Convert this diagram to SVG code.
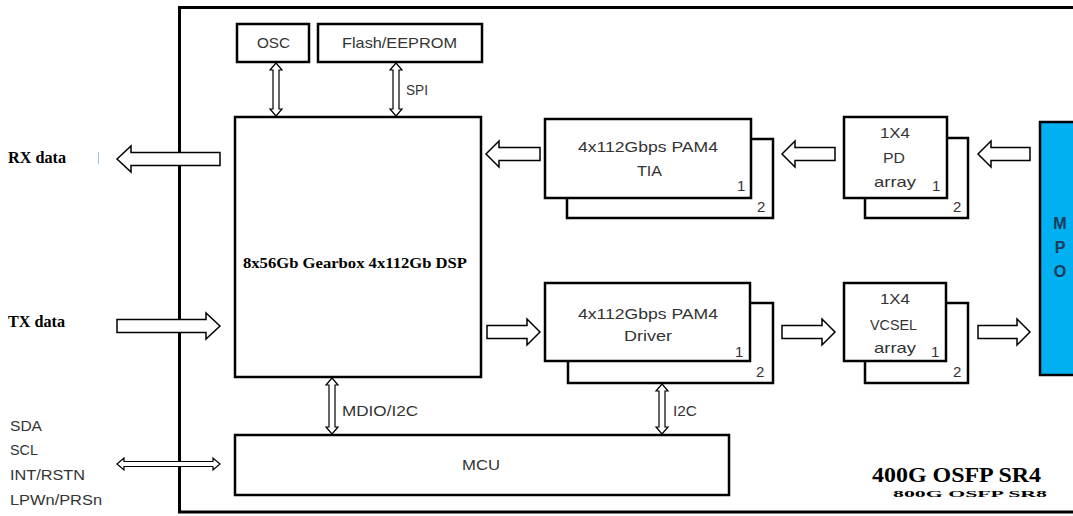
<svg xmlns="http://www.w3.org/2000/svg" width="1073" height="516" viewBox="0 0 1073 516">
<style>
.frame{fill:none;stroke:#000;stroke-width:3}
.box{fill:#fff;stroke:#000;stroke-width:2.5}
.ba{fill:#fff;stroke:#000;stroke-width:1.5;stroke-linejoin:miter}
.da{fill:#fff;stroke:#000;stroke-width:1.2;stroke-linejoin:miter}
.c{font-family:"Liberation Sans",Arial,sans-serif;font-size:15px;fill:#333}
.s{font-family:"Liberation Serif","Times New Roman",serif;font-weight:bold;fill:#000}
.m{font-family:"Liberation Sans",Arial,sans-serif;font-size:16px;font-weight:bold;fill:#1c3a5a;text-anchor:middle}
</style>
<rect width="1073" height="516" fill="#fff"/>
<rect class="frame" x="179.5" y="7.5" width="910" height="504.5"/>

<g id="osc"><rect class="box" x="237" y="24" width="72" height="38"/><text class="c" x="257" y="48" font-size="16" textLength="33" lengthAdjust="spacingAndGlyphs">OSC</text></g>
<g id="flash"><rect class="box" x="318" y="24" width="164" height="38"/><text class="c" x="342" y="48" font-size="16" textLength="115" lengthAdjust="spacingAndGlyphs">Flash/EEPROM</text></g>
<g id="dsp"><rect class="box" x="235" y="117" width="246" height="260"/><text class="s" x="243" y="268" font-size="14" textLength="224" lengthAdjust="spacingAndGlyphs">8x56Gb Gearbox 4x112Gb DSP</text></g>
<g id="mcu"><rect class="box" x="235" y="435" width="494" height="60"/><text class="c" x="462" y="470" textLength="38" lengthAdjust="spacingAndGlyphs">MCU</text></g>

<g id="tia">
<rect class="box" x="567" y="139" width="206" height="79"/>
<rect class="box" x="545" y="119" width="206" height="79"/>
<text class="c" x="578" y="152" textLength="140" lengthAdjust="spacingAndGlyphs">4x112Gbps PAM4</text>
<text class="c" x="637" y="176" textLength="25" lengthAdjust="spacingAndGlyphs">TIA</text>
<text class="c" x="737" y="191">1</text>
<text class="c" x="757" y="212">2</text>
</g>
<g id="pd">
<rect class="box" x="865" y="138" width="103" height="80"/>
<rect class="box" x="844" y="117" width="103" height="81"/>
<text class="c" x="880" y="138" textLength="30" lengthAdjust="spacingAndGlyphs">1X4</text>
<text class="c" x="883" y="163" textLength="22" lengthAdjust="spacingAndGlyphs">PD</text>
<text class="c" x="874" y="187" textLength="42" lengthAdjust="spacingAndGlyphs">array</text>
<text class="c" x="932" y="191">1</text>
<text class="c" x="953" y="212">2</text>
</g>
<g id="driver">
<rect class="box" x="568" y="303" width="205" height="80"/>
<rect class="box" x="545" y="283" width="205" height="78"/>
<text class="c" x="578" y="319" textLength="140" lengthAdjust="spacingAndGlyphs">4x112Gbps PAM4</text>
<text class="c" x="624" y="341" textLength="48" lengthAdjust="spacingAndGlyphs">Driver</text>
<text class="c" x="735" y="357">1</text>
<text class="c" x="756" y="377">2</text>
</g>
<g id="vcsel">
<rect class="box" x="865" y="303" width="103" height="80"/>
<rect class="box" x="844" y="283" width="102" height="78"/>
<text class="c" x="880" y="304" textLength="30" lengthAdjust="spacingAndGlyphs">1X4</text>
<text class="c" x="870" y="330" textLength="47" lengthAdjust="spacingAndGlyphs">VCSEL</text>
<text class="c" x="874" y="353" textLength="42" lengthAdjust="spacingAndGlyphs">array</text>
<text class="c" x="931" y="357">1</text>
<text class="c" x="953" y="377">2</text>
</g>
<g id="mpo">
<rect x="1040" y="122" width="45" height="253" fill="#00B0F0" stroke="#000" stroke-width="2.5"/>
<text class="m" x="1060" y="229">M</text>
<text class="m" x="1060" y="253">P</text>
<text class="m" x="1060" y="277">O</text>
</g>

<g id="labels">
<text class="s" x="8" y="163" font-size="16" textLength="58" lengthAdjust="spacingAndGlyphs">RX data</text>
<text class="s" x="8" y="327" font-size="16" textLength="57" lengthAdjust="spacingAndGlyphs">TX data</text>
<line x1="98.5" y1="152" x2="98.5" y2="164" stroke="#9dc3e6" stroke-width="1"/>
<text class="c" x="10" y="431" font-size="16" textLength="32" lengthAdjust="spacingAndGlyphs">SDA</text>
<text class="c" x="10" y="455" font-size="16" textLength="28" lengthAdjust="spacingAndGlyphs">SCL</text>
<text class="c" x="10" y="480" font-size="16" textLength="75" lengthAdjust="spacingAndGlyphs">INT/RSTN</text>
<text class="c" x="10" y="505" font-size="16" textLength="92" lengthAdjust="spacingAndGlyphs">LPWn/PRSn</text>
<text class="c" x="406" y="95" textLength="22" lengthAdjust="spacingAndGlyphs">SPI</text>
<text class="c" x="342" y="416" textLength="76" lengthAdjust="spacingAndGlyphs">MDIO/I2C</text>
<text class="c" x="673" y="416" textLength="24" lengthAdjust="spacingAndGlyphs">I2C</text>
<text class="s" transform="translate(893,497) scale(1,0.45)" x="0" y="0" font-size="20" fill="#222" textLength="154" lengthAdjust="spacingAndGlyphs">800G OSFP SR8</text>
<text class="s" x="872" y="482" font-size="20" textLength="169" lengthAdjust="spacingAndGlyphs">400G OSFP SR4</text>
</g>

<g id="connectors">
<path class="ba" d="M117,159 L131,146 L131,152.5 L220,152.5 L220,165.5 L131,165.5 L131,172 Z"/>
<path class="ba" d="M220,326 L206,313 L206,319.5 L117,319.5 L117,332.5 L206,332.5 L206,339 Z"/>
<path class="ba" d="M486,154 L499,141 L499,147.5 L540,147.5 L540,160.5 L499,160.5 L499,167 Z"/>
<path class="ba" d="M782,154 L795,141 L795,147.5 L835,147.5 L835,160.5 L795,160.5 L795,167 Z"/>
<path class="ba" d="M978,154 L991,141 L991,147.5 L1030,147.5 L1030,160.5 L991,160.5 L991,167 Z"/>
<path class="ba" d="M540,332 L527,319 L527,325.5 L487,325.5 L487,338.5 L527,338.5 L527,345 Z"/>
<path class="ba" d="M835,332 L822,319 L822,325.5 L782,325.5 L782,338.5 L822,338.5 L822,345 Z"/>
<path class="ba" d="M1030,332 L1017,319 L1017,325.5 L978,325.5 L978,338.5 L1017,338.5 L1017,345 Z"/>
<path class="da" d="M276,63 L282,70 L279,70 L279,109 L282,109 L276,116 L270,109 L273,109 L273,70 L270,70 Z"/>
<path class="da" d="M396,63 L402,70 L399,70 L399,109 L402,109 L396,116 L390,109 L393,109 L393,70 L390,70 Z"/>
<path class="da" d="M332,378 L338,385 L335,385 L335,427 L338,427 L332,434 L326,427 L329,427 L329,385 L326,385 Z"/>
<path class="da" d="M662,384 L668,391 L665,391 L665,427 L668,427 L662,434 L656,427 L659,427 L659,391 L656,391 Z"/>
<path class="da" d="M117,464 L124,458 L124,461.5 L213,461.5 L213,458 L220,464 L213,470 L213,466.5 L124,466.5 L124,470 Z"/>
</g>
</svg>
